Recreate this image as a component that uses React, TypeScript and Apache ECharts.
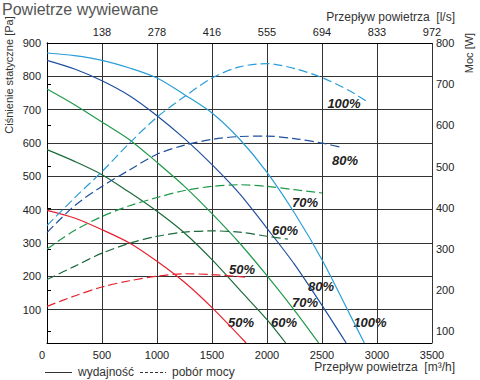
import React, { useEffect, useRef } from "react";
import * as echarts from "echarts";

// Flow axis (m3/h) ticks and the matching l/s labels on the top axis
const flowTicks = [0, 500, 1000, 1500, 2000, 2500, 3000, 3500];
const topLabels = ["", "138", "278", "416", "555", "694", "833", "972"];
const powerTicks = [100, 200, 300, 400, 500, 600, 700, 800];

// Static pressure [Pa] vs flow [m3/h] (solid)
const pressure100 = [[0, 870], [250, 862], [500, 848], [750, 825], [1000, 795], [1250, 745], [1500, 690], [1750, 612], [2000, 512], [2250, 390], [2500, 250], [2750, 88], [2885, 0]];
const pressure80 = [[0, 848], [250, 822], [500, 787], [750, 742], [1000, 682], [1250, 613], [1500, 535], [1750, 448], [2000, 344], [2250, 236], [2500, 113], [2720, 0]];
const pressure70 = [[0, 762], [250, 715], [500, 663], [750, 610], [1000, 542], [1250, 470], [1500, 388], [1750, 300], [2000, 202], [2250, 98], [2470, 0]];
const pressure60 = [[0, 580], [250, 545], [500, 505], [750, 452], [1000, 395], [1250, 330], [1500, 250], [1750, 160], [2000, 70], [2170, 0]];
const pressure50 = [[0, 398], [250, 375], [500, 340], [750, 300], [1000, 245], [1250, 182], [1500, 106], [1810, 0]];

// Power [W] vs flow [m3/h] (dashed)
const power100 = [[0, 357], [250, 424], [500, 488], [750, 557], [1000, 620], [1250, 670], [1500, 715], [1750, 742], [2000, 750], [2250, 738], [2500, 716], [2750, 684], [2920, 656]];
const power80 = [[0, 340], [250, 405], [500, 452], [750, 492], [1000, 530], [1250, 552], [1500, 566], [1750, 573], [2000, 574], [2250, 568], [2500, 557], [2690, 546]];
const power70 = [[0, 300], [250, 345], [500, 379], [750, 405], [1000, 425], [1250, 442], [1500, 452], [1750, 456], [2000, 452], [2250, 444], [2500, 436]];
const power60 = [[0, 226], [250, 258], [500, 290], [750, 314], [1000, 331], [1250, 341], [1500, 344], [1750, 341], [2000, 331], [2190, 324]];
const power50 = [[0, 161], [250, 186], [500, 208], [750, 223], [1000, 234], [1250, 240], [1500, 238], [1800, 232]];

const COLORS = {
  p100: "#2a9ed8",
  p80: "#1f4f9e",
  p70: "#1f9a4a",
  p60: "#1b6a3a",
  p50: "#e8202e",
};

const FONT = "'Liberation Sans', Arial, sans-serif";

export default function App() {
  const ref = useRef<HTMLDivElement>(null);

  useEffect(() => {
    if (!ref.current) return;
    const chart = echarts.init(ref.current, undefined, { renderer: "svg" });

    const solid = (name: string, data: number[][], color: string) => ({
      name,
      type: "line",
      xAxisIndex: 0,
      yAxisIndex: 0,
      data,
      smooth: 0.3,
      symbol: "none",
      lineStyle: { color, width: 1.2, type: "solid" },
      silent: true,
    });
    const dashed = (name: string, data: number[][], color: string) => ({
      name,
      type: "line",
      xAxisIndex: 0,
      yAxisIndex: 1,
      data,
      smooth: 0.3,
      symbol: "none",
      lineStyle: { color, width: 1.2, type: [9, 4] },
      silent: true,
    });

    const pct = (text: string, x: number, y: number) => ({
      type: "text",
      x,
      y,
      style: {
        text,
        fill: "#222",
        font: `italic bold 13px ${FONT}`,
        align: "center",
        verticalAlign: "middle",
      },
    });

    const txt = (text: string, x: number, y: number, size: number, align: string, fill = "#333", rotation = 0) => ({
      type: "text",
      x,
      y,
      rotation,
      style: {
        text,
        fill,
        font: `${size}px ${FONT}`,
        align,
        verticalAlign: "middle",
      },
    });

    chart.setOption({
      animation: false,
      backgroundColor: "#fff",
      grid: { left: 47, right: 48, top: 43, bottom: 37, containLabel: false },
      xAxis: [
        {
          type: "value",
          position: "bottom",
          min: 0,
          max: 3500,
          interval: 500,
          axisLine: { show: true, lineStyle: { color: "#000", width: 1 } },
          axisTick: { show: false },
          splitLine: { show: true, lineStyle: { color: "#333", width: 1 } },
          axisLabel: {
            color: "#222",
            fontSize: 11,
            fontFamily: FONT,
            margin: 6,
            formatter: (v: number) => (v === 0 ? "{z|0}" : String(v)),
            rich: { z: { padding: [0, 10, 0, 0], fontSize: 11, fontFamily: FONT, color: "#222" } },
          },
        },
        {
          type: "value",
          position: "top",
          min: 0,
          max: 3500,
          interval: 500,
          axisLine: { show: true, lineStyle: { color: "#000", width: 1 } },
          axisTick: { show: false },
          splitLine: { show: false },
          axisLabel: {
            color: "#222",
            fontSize: 11,
            fontFamily: FONT,
            margin: 6,
            formatter: (v: number) => topLabels[flowTicks.indexOf(v)] ?? "",
          },
        },
      ],
      yAxis: [
        {
          type: "value",
          position: "left",
          min: 0,
          max: 900,
          interval: 100,
          axisLine: { show: true, lineStyle: { color: "#000", width: 1 } },
          axisTick: { show: false },
          splitLine: { show: true, lineStyle: { color: "#333", width: 1 } },
          axisLabel: {
            color: "#222",
            fontSize: 11,
            fontFamily: FONT,
            margin: 6,
            showMinLabel: false,
          },
        },
        {
          type: "value",
          position: "right",
          min: 72,
          max: 800,
          axisLine: { show: true, lineStyle: { color: "#000", width: 1 } },
          axisTick: { show: true, length: 4, customValues: powerTicks, lineStyle: { color: "#000" } },
          splitLine: { show: false },
          axisLabel: {
            color: "#222",
            fontSize: 11,
            fontFamily: FONT,
            margin: 4,
            customValues: powerTicks,
          },
        },
      ],
      series: [
        solid("p100", pressure100, COLORS.p100),
        solid("p80", pressure80, COLORS.p80),
        solid("p70", pressure70, COLORS.p70),
        solid("p60", pressure60, COLORS.p60),
        solid("p50", pressure50, COLORS.p50),
        dashed("w100", power100, COLORS.p100),
        dashed("w80", power80, COLORS.p80),
        dashed("w70", power70, COLORS.p70),
        dashed("w60", power60, COLORS.p60),
        dashed("w50", power50, COLORS.p50),
      ],
      graphic: [
        {
          type: "text",
          x: 2,
          y: 1,
          style: { text: "Powietrze wywiewane", fill: "#555", font: `16px ${FONT}`, align: "left", verticalAlign: "top" },
        },
        txt("Przepływ powietrza  [l/s]", 455, 17, 12, "right"),
        txt("Przepływ powietrza  [m³/h]", 455, 367, 12, "right"),
        txt("Ciśnienie statyczne [Pa]", 9, 75, 11, "center", "#333", Math.PI / 2),
        txt("Moc [W]", 469, 53, 11, "center", "#333", Math.PI / 2),
        // legend
        { type: "line", shape: { x1: 45, y1: 372.5, x2: 72, y2: 372.5 }, style: { stroke: "#333", lineWidth: 1 } },
        txt("wydajność", 78, 372, 12, "left"),
        { type: "line", shape: { x1: 140, y1: 372.5, x2: 166, y2: 372.5 }, style: { stroke: "#333", lineWidth: 1, lineDash: [3, 2] } },
        txt("pobór mocy", 172, 372, 12, "left"),
        // curve labels
        pct("100%", 344, 103),
        pct("80%", 345, 160),
        pct("70%", 305, 202),
        pct("60%", 285, 230),
        pct("50%", 242, 269),
        pct("80%", 321, 286),
        pct("70%", 305, 302),
        pct("50%", 241, 322),
        pct("60%", 284, 322),
        pct("100%", 370, 322),
      ],
    });

    return () => chart.dispose();
  }, []);

  return (
    <div
      ref={ref}
      style={{ position: "fixed", left: 0, top: 0, width: 480, height: 380, background: "#fff" }}
    />
  );
}
